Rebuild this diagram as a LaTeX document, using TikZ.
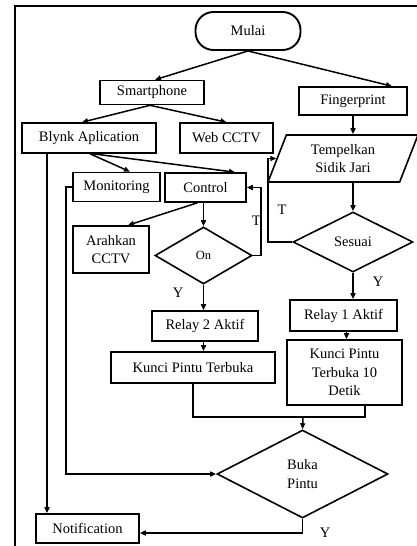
\documentclass[tikz,border=0pt]{standalone}
\usepackage{fontspec}
\setmainfont{Liberation Serif}
\usetikzlibrary{shapes.geometric,arrows.meta}
\tikzset{
  x=1pt,y=-1pt,
  every node/.style={font=\fontsize{14.5}{18.5}\selectfont, inner sep=0pt, align=center},
  box/.style={draw, line width=1.6pt, rectangle},
  dia/.style={draw, line width=1.6pt, diamond},
  ln/.style={line width=1.5pt},
  arr/.style={ln, -{Triangle[length=6pt,width=5pt]}},
  lbl/.style={font=\fontsize{14.5}{15.5}\selectfont}
}
\begin{document}
\begin{tikzpicture}
\useasboundingbox (0,0) rectangle (417,546);
% frame
\draw[line width=2pt] (14,6) -- (417,6);
\draw[line width=2pt] (15,6) -- (15,546);

\node[draw, line width=1.9pt, rounded corners=18pt, minimum width=105pt, minimum height=38pt] (mulai) at (248,31) {Mulai};
\node[box, minimum width=104pt, minimum height=24pt] (smart) at (152,92.5) {Smartphone};
\node[box, minimum width=108pt, minimum height=28pt] (finger) at (353,101) {Fingerprint};
\node[box, minimum width=134pt, minimum height=30pt] (blynk) at (89,138) {Blynk Aplication};
\node[box, minimum width=93pt, minimum height=30pt] (web) at (226.5,138) {Web CCTV};
\node[draw, line width=1.6pt, trapezium, trapezium left angle=57.4, trapezium right angle=122.6,
      trapezium stretches body, minimum width=150pt, minimum height=47pt] (temp) at (343,158.5) {Tempelkan\\Sidik Jari};
\node[box, minimum width=87pt, minimum height=29pt] (monitoring) at (116.5,187) {Monitoring};
\node[box, minimum width=81pt, minimum height=29pt] (control) at (205.5,187.5) {Control};
\node[dia, minimum width=120pt, minimum height=60pt] (sesuai) at (353,242) {Sesuai};
\node[box, minimum width=76pt, minimum height=47pt] (arahkan) at (111,249.5) {Arahkan\\CCTV};
\node[dia, minimum width=97pt, minimum height=57pt, font=\fontsize{12.5}{13.5}\selectfont] (on) at (203.5,255.5) {On};
\node[box, minimum width=107pt, minimum height=31pt] (relay1) at (343.5,315.5) {Relay 1 Aktif};
\node[box, minimum width=106pt, minimum height=30pt] (relay2) at (205,326) {Relay 2 Aktif};
\node[box, minimum width=164pt, minimum height=31pt] (kunci) at (193,367.5) {Kunci Pintu Terbuka};
\node[box, minimum width=115pt, minimum height=65pt] (kunci10) at (344.5,372.5) {Kunci Pintu\\Terbuka 10\\Detik};
\node[dia, minimum width=171pt, minimum height=88pt] (buka) at (302.5,474) {Buka\\Pintu};
\node[box, minimum width=103pt, minimum height=29pt] (notif) at (87.5,528.5) {Notification};

\coordinate (join) at (303,417);

% connectors
\draw[arr] (mulai.south) -- ([xshift=3pt]smart.north);
\draw[arr] (mulai.south) -- ([xshift=39pt]finger.north);
\draw[arr] ([xshift=-2pt]smart.south) -- ([xshift=-7pt]blynk.north);
\draw[arr] ([xshift=-2pt]smart.south) -- (web.north);
\draw[arr] (finger.south) -- (finger.south |- temp.north);
\draw[arr] ([xshift=1pt]blynk.south) -- ([xshift=13.5pt]monitoring.north);
\draw[arr] ([xshift=4pt]blynk.south) -- ([xshift=29.5pt]control.north);
\draw[arr] ([xshift=-42pt]blynk.south) -- ([xshift=-42pt]blynk.south |- notif.north);
\draw[arr] (monitoring.west) -- ++(-6,0) |- (buka.west);
\draw[arr] ([xshift=-8pt]control.south) -- ([xshift=17pt]arahkan.north);
\draw[arr] (control.south -| on.north) -- (on.north);
\draw[arr] (on.east) -- ++(8,0) |- (control.east);
\node[lbl, anchor=east] (tl1) at (261,221) {T};
\draw[arr] (on.south) -- (on.south |- relay2.north);
\node[lbl] (yl1) at (178,293) {Y};
\draw[arr] (on.south |- relay2.south) -- (on.south |- kunci.north);
\draw[arr] (temp.south -| sesuai.north) -- (sesuai.north);
\draw[arr] (sesuai.west) -- ++(-24,0) |- (temp.west);
\node[lbl] (tl2) at (282,210) {T};
\draw[arr] (sesuai.south) -- (sesuai.south |- relay1.north);
\node[lbl] (yl2) at (378,282) {Y};
\draw[arr] ([xshift=3pt]relay1.south) -- ([xshift=3pt]relay1.south |- kunci10.north);
\draw[ln] (kunci.south) |- (join) -| ([xshift=20.5pt]kunci10.south);
\draw[arr] (join) -- (buka.north);
\draw[arr] (buka.south) |- ([yshift=-4.5pt]notif.east);
\node[lbl] (yl3) at (325,533) {Y};
\end{tikzpicture}
\end{document}
